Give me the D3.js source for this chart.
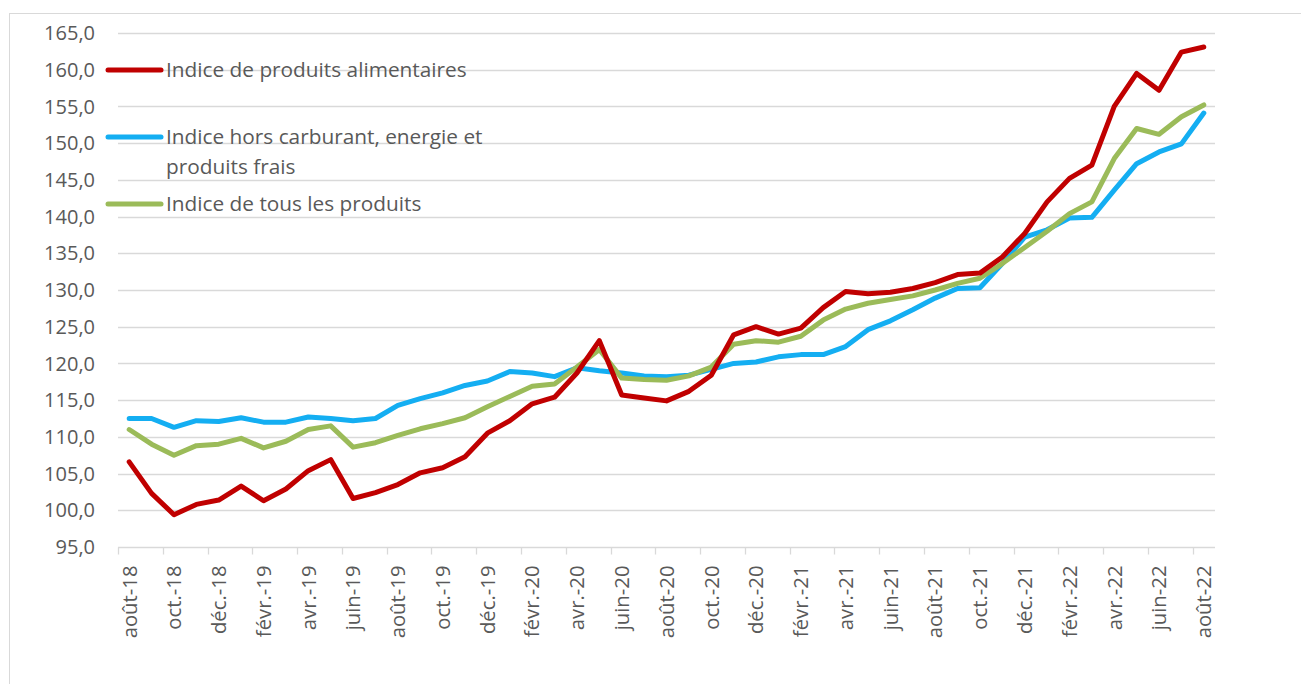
<!DOCTYPE html>
<html>
<head>
<meta charset="utf-8">
<script src="https://cdn.jsdelivr.net/npm/d3@7"></script>
<style>
  html, body { margin: 0; padding: 0; background: #fff; }
  svg { display: block; }
  text { font-family: "Open Sans", "Liberation Sans", sans-serif; fill: #595959; }
</style>
</head>
<body>
<svg id="chart" width="1301" height="684"></svg>
<script>
// ---- Data ----
const months = ["août-18","sept.-18","oct.-18","nov.-18","déc.-18","janv.-19","févr.-19","mars-19","avr.-19","mai-19","juin-19","juil.-19",
  "août-19","sept.-19","oct.-19","nov.-19","déc.-19","janv.-20","févr.-20","mars-20","avr.-20","mai-20","juin-20","juil.-20",
  "août-20","sept.-20","oct.-20","nov.-20","déc.-20","janv.-21","févr.-21","mars-21","avr.-21","mai-21","juin-21","juil.-21",
  "août-21","sept.-21","oct.-21","nov.-21","déc.-21","janv.-22","févr.-22","mars-22","avr.-22","mai-22","juin-22","juil.-22","août-22"];

const alimentaires = [106.6,102.3,99.4,100.8,101.4,103.3,101.3,102.9,105.4,106.9,101.6,102.4,
  103.5,105.1,105.8,107.3,110.5,112.2,114.5,115.4,118.7,123.1,115.7,115.3,
  114.9,116.2,118.4,123.9,125.0,124.0,124.8,127.6,129.8,129.5,129.7,130.2,
  131.0,132.1,132.3,134.5,137.7,142.0,145.2,147.0,155.0,159.5,157.2,162.4,163.1];

const horsCarburant = [112.5,112.5,111.3,112.2,112.1,112.6,112.0,112.0,112.7,112.5,112.2,112.5,
  114.3,115.2,116.0,117.0,117.6,118.9,118.7,118.2,119.4,119.0,118.7,118.3,
  118.2,118.4,119.2,120.0,120.2,120.9,121.2,121.2,122.3,124.6,125.8,127.3,
  128.9,130.2,130.3,133.6,137.2,138.2,139.8,139.9,143.6,147.2,148.8,149.9,154.1];

const tousProduits = [111.0,109.0,107.5,108.8,109.0,109.8,108.5,109.4,111.0,111.5,108.6,109.2,
  110.2,111.1,111.8,112.6,114.1,115.5,116.9,117.2,119.5,121.9,118.0,117.8,
  117.7,118.3,119.5,122.6,123.1,122.9,123.7,125.9,127.4,128.2,128.7,129.2,
  130.0,130.9,131.6,133.6,135.8,138.0,140.4,142.0,147.9,152.0,151.2,153.6,155.2];

const yTicks = [95,100,105,110,115,120,125,130,135,140,145,150,155,160,165];

const seriesNames = ["Indice de produits alimentaires", "Indice hors carburant, energie et produits frais", "Indice de tous les produits"];
const seriesColors = ["#C00000", "#14AEF2", "#9BBB59"];

// ---- Chart ----
const svg = d3.select("#chart");
const frLocale = d3.formatLocale({decimal: ",", thousands: " ", grouping: [3], currency: ["", " €"]});
const fmt = frLocale.format(".1f");

const x = d3.scaleBand().domain(d3.range(months.length)).range([118, 1215]).padding(0);
const y = d3.scaleLinear().domain([95, 165]).range([547, 33]);
const cx = i => x(i) + x.bandwidth() / 2;

// outer border
svg.append("rect").attr("x", 9.5).attr("y", 13.5).attr("width", 1320).attr("height", 700)
  .attr("fill", "none").attr("stroke", "#d9d9d9").attr("stroke-width", 1);

// gridlines
svg.append("g").selectAll("line").data(yTicks.filter(t => t !== 95)).join("line")
  .attr("x1", 118).attr("x2", 1215)
  .attr("y1", d => Math.round(y(d)) + 0.5).attr("y2", d => Math.round(y(d)) + 0.5)
  .attr("stroke", "#d9d9d9").attr("stroke-width", 1.3);

// y labels
svg.append("g").selectAll("text").data(yTicks).join("text")
  .attr("x", 95).attr("y", d => y(d)).attr("dy", "0.36em")
  .attr("text-anchor", "end").attr("font-size", 20)
  .text(d => fmt(d));

// x axis
const xAxisY = Math.round(y(95)) + 0.5;
svg.append("line").attr("x1", 118).attr("x2", 1215).attr("y1", xAxisY).attr("y2", xAxisY)
  .attr("stroke", "#d9d9d9").attr("stroke-width", 1.3);
const tickIdx = d3.range(0, months.length, 2);
svg.append("g").selectAll("line").data(tickIdx).join("line")
  .attr("x1", d => Math.round(x(d)) + 0.5).attr("x2", d => Math.round(x(d)) + 0.5)
  .attr("y1", xAxisY).attr("y2", xAxisY + 7)
  .attr("stroke", "#d9d9d9").attr("stroke-width", 1.3);
svg.append("g").selectAll("text").data(tickIdx).join("text")
  .attr("transform", d => `translate(${cx(d)},${xAxisY + 18}) rotate(-90)`)
  .attr("text-anchor", "end").attr("dy", "0.36em").attr("font-size", 20.3)
  .text(d => months[d]);

// lines
const line = d3.line().x((d, i) => cx(i)).y(d => y(d));
const allSeries = [alimentaires, horsCarburant, tousProduits];
const drawOrder = [1, 2, 0];
drawOrder.forEach(k => {
  svg.append("path").datum(allSeries[k]).attr("d", line)
    .attr("fill", "none").attr("stroke", seriesColors[k]).attr("stroke-width", 5)
    .attr("stroke-linejoin", "round").attr("stroke-linecap", "round");
});

// legend
const legendRows = [
  {k: 0, yy: 70, lines: ["Indice de produits alimentaires"]},
  {k: 1, yy: 137, lines: ["Indice hors carburant, energie et", "produits frais"]},
  {k: 2, yy: 204, lines: ["Indice de tous les produits"]}
];
const lg = svg.append("g");
legendRows.forEach(r => {
  lg.append("line").attr("x1", 108).attr("x2", 161).attr("y1", r.yy).attr("y2", r.yy)
    .attr("stroke", seriesColors[r.k]).attr("stroke-width", 5).attr("stroke-linecap", "round");
  r.lines.forEach((t, j) => {
    lg.append("text").attr("x", 166).attr("y", r.yy + j * 30).attr("dy", "0.36em")
      .attr("font-size", 20.8).text(t);
  });
});
</script>
</body>
</html>
